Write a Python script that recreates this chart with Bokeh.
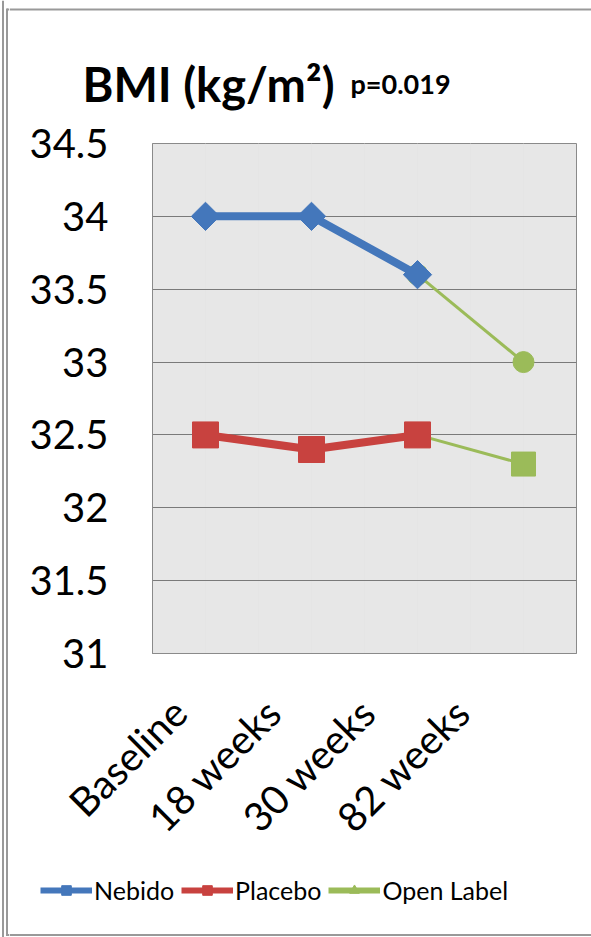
import math
import numpy as np
from bokeh.plotting import figure
from bokeh.layouts import row, column
from bokeh.models import (Range1d, FixedTicker, LinearAxis, Legend, LegendItem,
                          ColumnDataSource)
from bokeh.core.properties import value
from bokeh.embed import file_html
from bokeh.resources import INLINE

# ---- data ----
categories = ["Baseline", "18 weeks", "30 weeks", "82 weeks"]
nebido = [34.0, 34.0, 33.6, None]
placebo = [32.5, 32.4, 32.5, None]
open_label_from_nebido = [None, None, 33.6, 33.0]
open_label_from_placebo = [None, None, 32.5, 32.3]
y_ticks = [31, 31.5, 32, 32.5, 33, 33.5, 34, 34.5]
y_tick_labels = ["31", "31.5", "32", "32.5", "33", "33.5", "34", "34.5"]
title_main = "BMI (kg/m²)"
title_p = "p=0.019"
legend_labels = ["Nebido", "Placebo", "Open Label"]

FONT = "Lato"
BLUE = "#4477bb"
RED = "#c8423f"
GREEN = "#9bbb59"
FRAME_GRAY = "#999999"

W, H = 591, 937
STRIP = 9            # left strip with the double border line
TITLE_H = 112
LEG_H = 77
MAIN_H = H - TITLE_H - LEG_H
FL, FR, FT, FB = 152, 576, 143, 654   # plot-area edges on the page


def bare(width, height, xr, yr):
    f = figure(width=width, height=height, output_backend="svg", toolbar_location=None,
               x_range=xr, y_range=yr, x_axis_location=None, y_axis_location=None,
               min_border=0, frame_align=False)
    f.title.visible = False
    f.outline_line_color = None
    f.background_fill_alpha = 0
    f.border_fill_alpha = 0
    f.xgrid.grid_line_color = None
    f.ygrid.grid_line_color = None
    return f

# ---- left strip: double vertical border ----
strip = bare(STRIP, H, Range1d(0, STRIP), Range1d(H, 0))
strip.segment(x0=[2.5, 6.5, 6.5, 6.5], y0=[0, 8, 9, 934.5], x1=[2.5, 6.5, 9, 9],
              y1=[H, 935.5, 9, 934.5], line_color=FRAME_GRAY, line_width=2)

# ---- title ----
tfig = bare(W - STRIP, TITLE_H, Range1d(STRIP, W), Range1d(TITLE_H, 0))
tfig.segment(x0=[STRIP], y0=[9], x1=[W], y1=[9], line_color=FRAME_GRAY, line_width=2)
tfig.text(x=[82], y=[83], text=[title_main], text_font=value(FONT), text_font_size="47px",
          text_font_style="bold", text_color="black", text_baseline="alphabetic",
          text_align="left")
tfig.text(x=[350], y=[83], text=[title_p], text_font=value(FONT), text_font_size="27px",
          text_font_style="bold", text_color="black", text_baseline="alphabetic",
          text_align="left")

# ---- main chart ----
n = len(categories)
x_pos = [i + 0.5 for i in range(n)]          # category centres
p = figure(width=W - STRIP, height=MAIN_H, output_backend="svg", toolbar_location=None,
           x_range=Range1d(0, n), y_range=Range1d(31, 34.5), x_axis_location=None,
           min_border_left=FL - STRIP, min_border_right=W - FR,
           min_border_top=FT - TITLE_H, min_border_bottom=TITLE_H + MAIN_H - FB,
           frame_align=False)
p.title.visible = False
p.background_fill_color = "#e7e7e7"
p.border_fill_alpha = 0
p.outline_line_color = "#8a8a8a"
p.outline_line_width = 1

p.yaxis.ticker = FixedTicker(ticks=y_ticks)
p.yaxis.major_label_overrides = {t: l for t, l in zip(y_ticks, y_tick_labels)}
p.yaxis.major_label_text_font = FONT
p.yaxis.major_label_text_font_size = "40px"
p.yaxis.major_label_text_color = "black"
p.yaxis.major_tick_line_color = None
p.yaxis.minor_tick_line_color = None
p.yaxis.major_label_standoff = 38
p.yaxis.axis_line_color = "#8a8a8a"

# category label axis (labels sit slightly left of the category centres, as in the original)
p.extra_x_ranges = {"lab": Range1d(0.214, 4.71)}
xax = LinearAxis(x_range_name="lab", ticker=FixedTicker(ticks=x_pos),
                 major_label_overrides={t: c for t, c in zip(x_pos, categories)},
                 major_label_orientation=math.pi / 4,
                 major_label_text_font=FONT, major_label_text_font_size="40px",
                 major_label_text_color="black", major_tick_line_color=None,
                 minor_tick_line_color=None, axis_line_color="#8a8a8a",
                 major_label_standoff=46)
p.add_layout(xax, "below")

p.ygrid.ticker = FixedTicker(ticks=y_ticks)
p.ygrid.grid_line_color = "#7a7a7a"
p.ygrid.grid_line_width = 1

src = ColumnDataSource(dict(x=x_pos,
                            neb=np.array(nebido, dtype=float),
                            pla=np.array(placebo, dtype=float),
                            oln=np.array(open_label_from_nebido, dtype=float),
                            olp=np.array(open_label_from_placebo, dtype=float)))

p.line("x", "oln", source=src, line_color=GREEN, line_width=3)
p.line("x", "olp", source=src, line_color=GREEN, line_width=3)
p.scatter("x", "oln", source=src, marker="circle", size=21, fill_color=GREEN, line_color=GREEN)
p.scatter("x", "olp", source=src, marker="square", size=24, fill_color=GREEN, line_color=GREEN)
p.line("x", "neb", source=src, line_color=BLUE, line_width=8)
p.scatter("x", "neb", source=src, marker="square", angle=math.pi / 4, size=20,
          fill_color=BLUE, line_color=BLUE)
p.line("x", "pla", source=src, line_color=RED, line_width=8)
p.scatter("x", "pla", source=src, marker="square", size=26, fill_color=RED, line_color=RED)

# ---- legend (its sample glyphs sit off-canvas; only the legend swatches show) ----
lfig = bare(W - STRIP, LEG_H, Range1d(STRIP, W), Range1d(LEG_H, 0))
off = dict(x=[-1000, -999], y=[-1000, -1000])
ln = lfig.line(x=off["x"], y=off["y"], line_color=BLUE, line_width=6)
lnm = lfig.scatter(x=off["x"], y=off["y"], marker="square", angle=math.pi / 4, size=16,
                   fill_color=BLUE, line_color=BLUE)
lp = lfig.line(x=off["x"], y=off["y"], line_color=RED, line_width=6)
lpm = lfig.scatter(x=off["x"], y=off["y"], marker="square", size=20, fill_color=RED, line_color=RED)
lo = lfig.line(x=off["x"], y=off["y"], line_color=GREEN, line_width=6)
lom = lfig.scatter(x=off["x"], y=off["y"], marker="triangle", size=20,
                   fill_color=GREEN, line_color=GREEN)
legend = Legend(items=[
    LegendItem(label=legend_labels[0], renderers=[ln, lnm]),
    LegendItem(label=legend_labels[1], renderers=[lp, lpm]),
    LegendItem(label=legend_labels[2], renderers=[lo, lom]),
], orientation="horizontal", location=(40 - STRIP, H - 905),
    glyph_width=52, glyph_height=24, label_standoff=2, spacing=7,
    padding=0, margin=0, border_line_color=None, background_fill_alpha=0,
    label_text_font=FONT, label_text_font_size="25px", label_text_color="black")
lfig.add_layout(legend, "center")
# bottom border line
lfig.segment(x0=[STRIP], y0=[934.5 - (H - LEG_H)], x1=[W], y1=[934.5 - (H - LEG_H)],
             line_color=FRAME_GRAY, line_width=2)

layout = row(strip, column(tfig, p, lfig, spacing=0), spacing=0)
open("out.html", "w").write(file_html(layout, INLINE))
